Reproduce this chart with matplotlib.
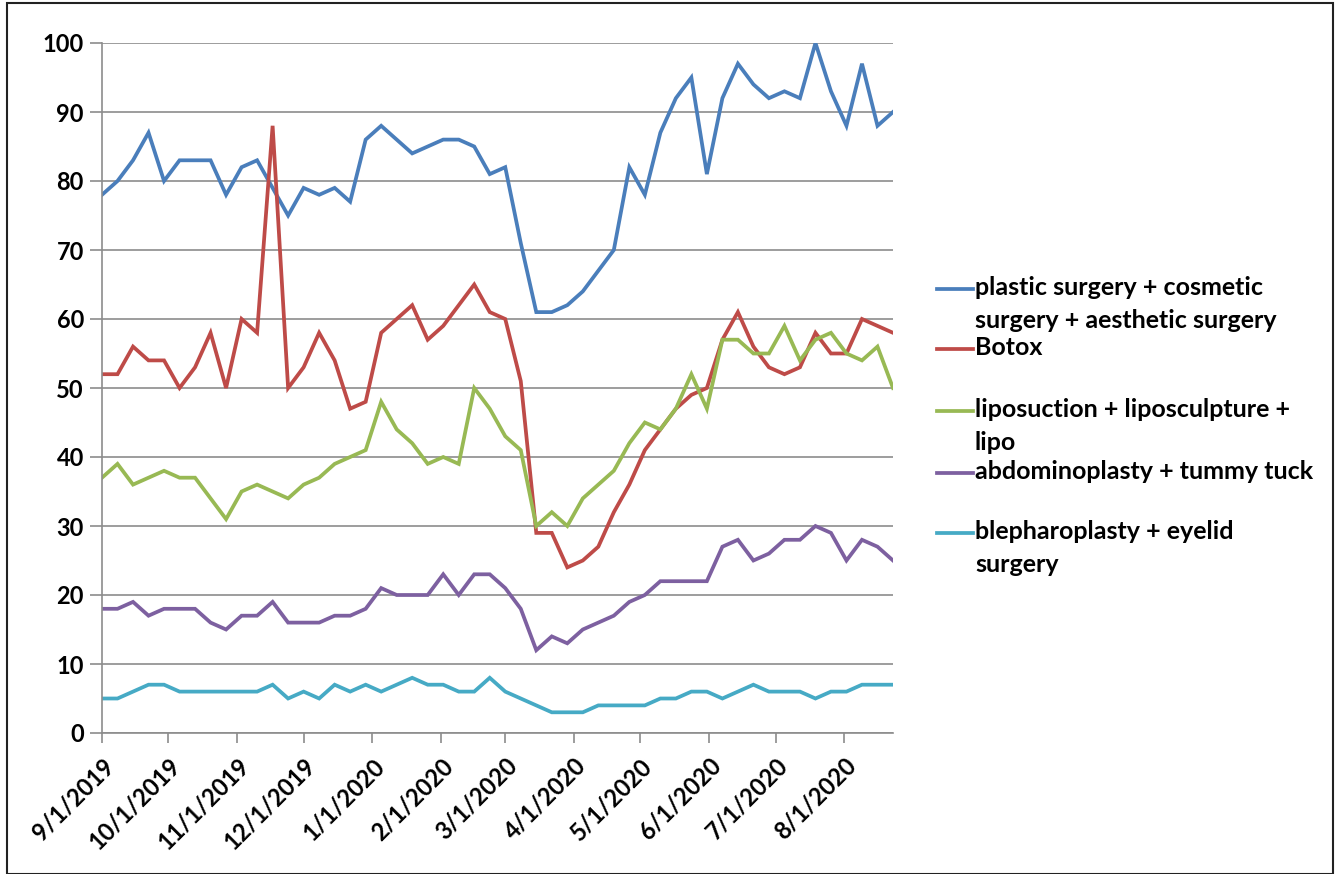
import datetime as dt
import matplotlib
matplotlib.use("Agg")
import matplotlib.pyplot as plt
from matplotlib.lines import Line2D
from matplotlib.patches import Rectangle

plt.rcParams['font.family'] = ['Lato', 'DejaVu Sans']
plt.rcParams['font.weight'] = 'bold'

# weekly google-trends style data, weeks starting 9/1/2019
start = dt.date(2019, 9, 1)
weeks = [start + dt.timedelta(days=7 * i) for i in range(52)]

plastic = [78, 80, 83, 87, 80, 83, 83, 83, 78, 82, 83, 79, 75, 79, 78, 79, 77, 86, 88, 86,
           84, 85, 86, 86, 85, 81, 82, 71, 61, 61, 62, 64, 67, 70, 82, 78, 87, 92, 95, 81,
           92, 97, 94, 92, 93, 92, 100, 93, 88, 97, 88, 90]
botox = [52, 52, 56, 54, 54, 50, 53, 58, 50, 60, 58, 88, 50, 53, 58, 54, 47, 48, 58, 60,
         62, 57, 59, 62, 65, 61, 60, 51, 29, 29, 24, 25, 27, 32, 36, 41, 44, 47, 49, 50,
         57, 61, 56, 53, 52, 53, 58, 55, 55, 60, 59, 58]
lipo = [37, 39, 36, 37, 38, 37, 37, 34, 31, 35, 36, 35, 34, 36, 37, 39, 40, 41, 48, 44,
        42, 39, 40, 39, 50, 47, 43, 41, 30, 32, 30, 34, 36, 38, 42, 45, 44, 47, 52, 47,
        57, 57, 55, 55, 59, 54, 57, 58, 55, 54, 56, 50]
abdomino = [18, 18, 19, 17, 18, 18, 18, 16, 15, 17, 17, 19, 16, 16, 16, 17, 17, 18, 21, 20,
            20, 20, 23, 20, 23, 23, 21, 18, 12, 14, 13, 15, 16, 17, 19, 20, 22, 22, 22, 22,
            27, 28, 25, 26, 28, 28, 30, 29, 25, 28, 27, 25]
blepharo = [5, 5, 6, 7, 7, 6, 6, 6, 6, 6, 6, 7, 5, 6, 5, 7, 6, 7, 6, 7,
            8, 7, 7, 6, 6, 8, 6, 5, 4, 3, 3, 3, 4, 4, 4, 4, 5, 5, 6, 6,
            5, 6, 7, 6, 6, 6, 5, 6, 6, 7, 7, 7]

labels = ["plastic surgery + cosmetic\nsurgery + aesthetic surgery",
          "Botox",
          "liposuction + liposculpture +\nlipo",
          "abdominoplasty + tummy tuck",
          "blepharoplasty + eyelid\nsurgery"]
colors = ["#4A7EBB", "#BE4B48", "#98B954", "#7D60A0", "#46AAC5"]
series = [plastic, botox, lipo, abdomino, blepharo]

fig = plt.figure(figsize=(13.36, 8.74), dpi=100)
ax = fig.add_axes([102 / 1336, 1 - 733 / 874, (893 - 102) / 1336, (733 - 43) / 874])

for vals, c in zip(series, colors):
    ax.plot(weeks, vals, color=c, lw=2.7, solid_joinstyle='miter')

ax.set_ylim(0, 100)
ax.set_yticks(range(0, 101, 10))
ax.set_xlim(weeks[0], weeks[-1])
ax.grid(axis='y', color='#8c8c8c', lw=1.2)
ax.set_axisbelow(True)

months = [dt.date(2019, m, 1) for m in range(9, 13)] + [dt.date(2020, m, 1) for m in range(1, 9)]
ax.set_xticks(months)
ax.set_xticklabels([f"{d.month}/{d.day}/{d.year}" for d in months],
                   rotation=45, ha='right', rotation_mode='anchor', fontsize=17)
ax.tick_params(axis='x', length=7, width=1.2, color='#8c8c8c', pad=8)
ax.tick_params(axis='y', length=9, width=1.2, color='#8c8c8c', labelsize=17, pad=4)

for s in ['top', 'right']:
    ax.spines[s].set_visible(False)
for s in ['left', 'bottom']:
    ax.spines[s].set_color('#8c8c8c')
    ax.spines[s].set_linewidth(1.2)

# legend drawn Excel-style on the right
W, H = 1336, 874
leg_y = [289, 349, 411, 473, 533]
for y, lab, c in zip(leg_y, labels, colors):
    fig.add_artist(Line2D([937 / W, 973 / W], [1 - y / H, 1 - y / H], color=c, lw=2.7))
    fig.text(975 / W, 1 - (y - 13) / H, lab, fontsize=18, va='top', ha='left',
             linespacing=1.5)

fig.add_artist(Rectangle((7 / W, 0), (1333 - 7) / W, 1 - 3 / H, transform=fig.transFigure,
                         fill=False, edgecolor='#222222', lw=1.5))

fig.savefig("out.png", dpi=100)
